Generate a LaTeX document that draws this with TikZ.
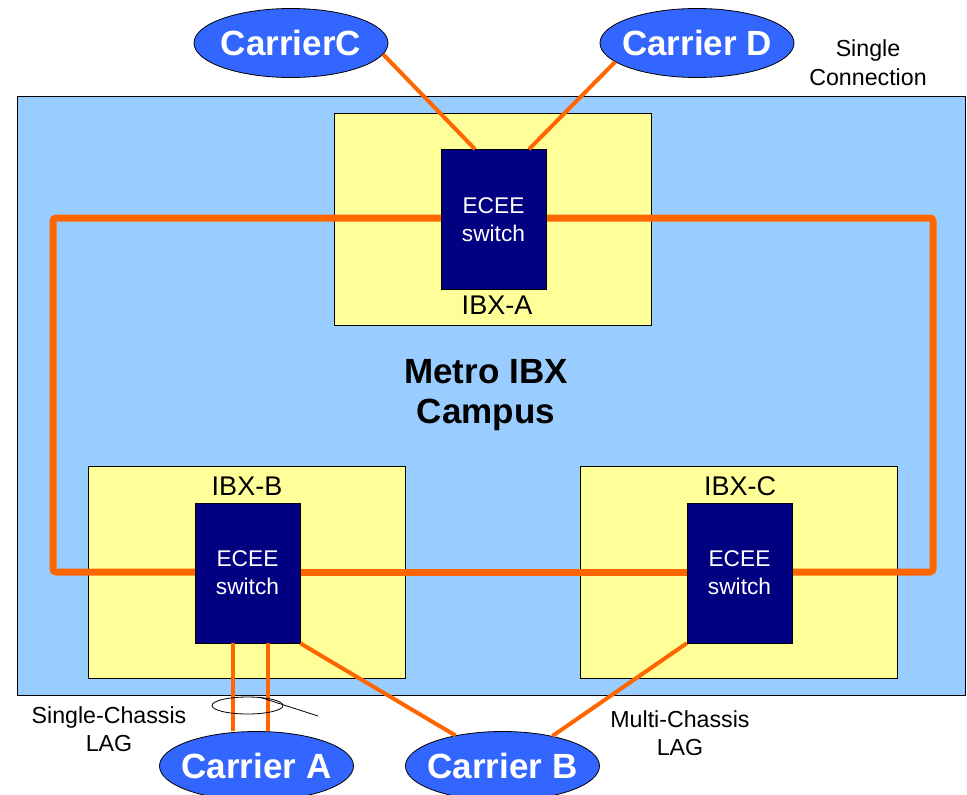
\documentclass[tikz,border=0pt]{standalone}
\usepackage{fontspec}
\setmainfont{Liberation Sans}
\usetikzlibrary{shapes.geometric,calc}

\definecolor{campusblue}{HTML}{99CCFF}
\definecolor{ibxyellow}{HTML}{FFFF99}
\definecolor{switchnavy}{HTML}{000080}
\definecolor{ringorange}{HTML}{FF6600}
\definecolor{carrierblue}{HTML}{3366FF}

\tikzset{
  campus/.style={draw=black, line width=0.8pt, fill=campusblue, inner sep=0pt},
  ibxbox/.style={draw=black, line width=0.8pt, fill=ibxyellow, inner sep=0pt,
                 minimum width=317pt, minimum height=212pt},
  switchbox/.style={draw=black, line width=0.6pt, fill=switchnavy, inner sep=0pt,
                 minimum width=105pt, minimum height=140pt,
                 text=white, align=center, font=\fontsize{22.7}{28}\selectfont},
  carriertext/.style={text=white, inner sep=0pt, font=\fontsize{35}{40}\selectfont\bfseries},
  carrier/.style={ellipse, draw=black, line width=0.8pt, fill=carrierblue, inner sep=0pt,
                 minimum width=194pt, minimum height=69pt,
                 label={[carriertext]center:#1}},
  ring/.style={draw=ringorange, line width=7pt, rounded corners=3pt},
  link/.style={draw=ringorange, line width=4pt},
  note/.style={align=center, inner sep=0pt, font=\fontsize{23.2}{28.5}\selectfont},
  ibxlabel/.style={inner sep=0pt, font=\fontsize{27}{30}\selectfont},
  lagring/.style={ellipse, draw=black, line width=0.8pt, inner sep=0pt,
                 minimum width=71pt, minimum height=17pt}
}

\begin{document}
\begin{tikzpicture}[x=1pt,y=-1pt]
\useasboundingbox (0,0) rectangle (967,795);

% campus area
\node[campus, minimum width=948.5pt, minimum height=599pt] (campus) at (491.25,395.5) {};

% IBX sites
\node[ibxbox] (ibxA) at (492.5,219) {};
\node[ibxbox] (ibxB) at (246.5,572) {};
\node[ibxbox] (ibxC) at (738.5,572) {};

\node[ibxlabel] (labA) at (497,305) {IBX-A};
\node[ibxlabel] (labB) at (247,486) {IBX-B};
\node[ibxlabel] (labC) at (740,486) {IBX-C};

% campus title
\node[align=center, inner sep=0pt, font=\fontsize{35}{40}\selectfont\bfseries] (title) at (486,395) {Metro IBX\\Campus};

% ring corners
\coordinate (rTL) at (53,218);
\coordinate (rTR) at (933,218);
\coordinate (rBL) at (53,572);
\coordinate (rBR) at (933,572);

% switch positions
\path (493.5,219.5) coordinate (pA) (247.5,573) coordinate (pB) (739.5,573) coordinate (pC);

% metro ring
\draw[ring] (441,218) -- (rTL) -- (rBL) -- (195,572);
\draw[ring] (547,218) -- (rTR) -- (rBR) -- (792,572);
\draw[ring] (300,572) -- (687,572);

% switches
\node[switchbox] (swA) at (pA) {ECEE\\switch};
\node[switchbox] (swB) at (pB) {ECEE\\switch};
\node[switchbox] (swC) at (pC) {ECEE\\switch};

% carriers
\node[carrier=CarrierC] (carC) at (291,43) {};
\node[carrier=Carrier D] (carD) at (697,43) {};
\node[carrier=Carrier A] (carA) at (256.5,766) {};
\node[carrier=Carrier B] (carB) at (502.5,766) {};

% carrier links
\draw[link] (carC.-7.5) -- ([xshift=-18.5pt]swA.north);
\draw[link] (carD.193) -- ([xshift=35.5pt]swA.north);
\draw[link] ([xshift=-14.5pt]swB.south) -- ([xshift=-23.5pt]carA.north);
\draw[link] ([xshift=20.5pt]swB.south) -- ([xshift=11.5pt]carA.north);
\draw[link] (swB.south east) -- (carB.147);
\draw[link] (swC.south west) -- (carB.31);

% LAG marker
\node[lagring] (lag) at (247.5,705.5) {};
\coordinate (lagtail) at (318,716);
\draw[line width=0.8pt] (lag.35) -- (lagtail);

% annotations
\node[note] (single) at (868,62.5) {Single\\Connection};
\node[note] (sclag) at (109,729) {Single-Chassis\\LAG};
\node[note] (mclag) at (680,733) {Multi-Chassis\\LAG};
\end{tikzpicture}
\end{document}
